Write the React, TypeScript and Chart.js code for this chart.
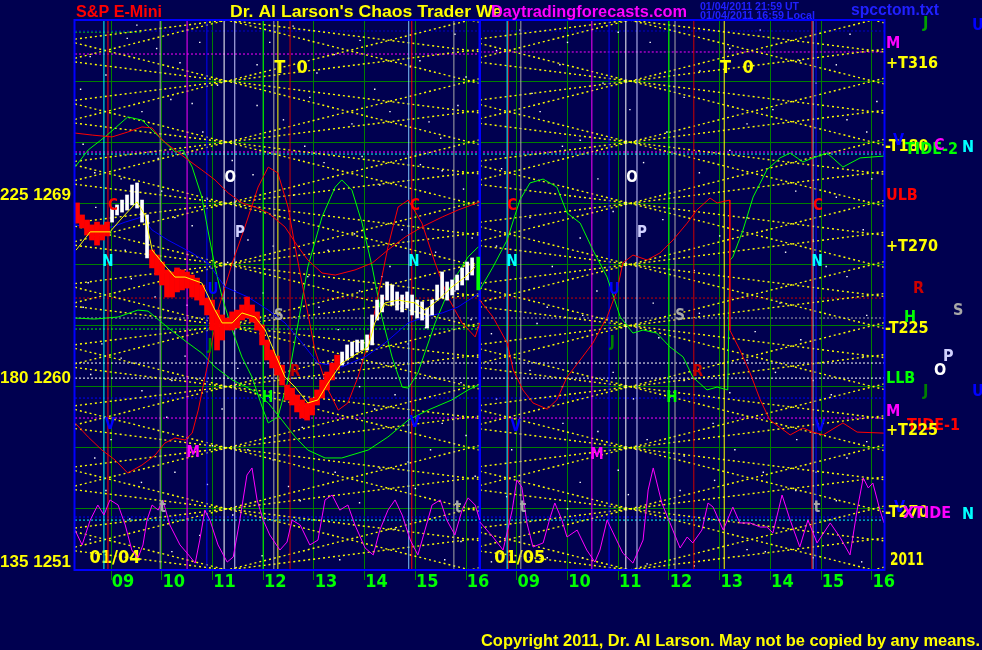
import React, { useEffect, useRef } from "react";
import { Chart, registerables } from "chart.js";
Chart.register(...registerables);

const NAVY = "#000050";
const FONT = "'Liberation Sans', Arial, sans-serif";
const NARROW = "'Liberation Sans Narrow', 'DejaVu Sans Condensed', 'Liberation Sans', sans-serif";

// ---- axes ----
const X_MIN = 8.29;
const X_MAX = 24.24;
const DAY_SPLIT = 16.27;
const Y_MIN = 1251;
const Y_MAX = 1278;
const HOUR_TICKS = [9, 10, 11, 12, 13, 14, 15, 16, 17, 18, 19, 20, 21, 22, 23, 24];
const HOUR_LABELS = ["09", "10", "11", "12", "13", "14", "15", "16", "09", "10", "11", "12", "13", "14", "15", "16"];
const PRICE_GRID = [1251, 1254, 1257, 1260, 1263, 1266, 1269, 1272, 1275, 1278];
const PRICE_LABELS: Record<number, string> = { 1251: "135 1251", 1260: "180 1260", 1269: "225 1269" };

// ---- price bars (day 1) ----
const BAR_START = 8.33;
const BAR_STEP = 0.0986;
const BAR_HIGH = [
  1269.02, 1268.43, 1268.18, 1267.94, 1268.08, 1267.94, 1268.08, 1268.77, 1268.92, 1269.16,
  1269.41, 1269.9, 1270.0, 1269.16, 1268.43, 1266.71, 1266.46, 1266.12, 1265.73, 1265.63,
  1265.83, 1265.73, 1265.63, 1265.48, 1265.33, 1264.99, 1264.35, 1264.25, 1263.76, 1263.52,
  1263.37, 1263.67, 1263.76, 1264.01, 1264.4, 1264.01, 1263.67, 1263.03, 1262.29, 1261.8,
  1261.5, 1261.06, 1260.08, 1259.93, 1259.59, 1259.35, 1259.2, 1259.44, 1259.84, 1260.33,
  1260.72, 1261.16, 1261.55, 1261.7, 1262.05, 1262.19, 1262.29, 1262.29, 1262.54, 1263.52,
  1264.25, 1264.5, 1265.14, 1264.99, 1264.65, 1264.5, 1264.65, 1264.5, 1264.25, 1264.16,
  1263.86, 1264.25, 1264.99, 1265.63, 1265.14, 1265.24, 1265.48, 1265.83, 1266.12, 1266.32,
];
const BAR_LOW = [
  1268.03, 1267.79, 1267.44, 1267.2, 1266.95, 1267.2, 1267.4, 1268.08, 1268.43, 1268.57,
  1268.67, 1268.92, 1268.77, 1268.08, 1266.32, 1265.83, 1265.48, 1264.99, 1264.4, 1264.4,
  1264.65, 1264.75, 1264.84, 1264.4, 1264.25, 1264.01, 1263.52, 1262.78, 1261.8, 1262.29,
  1262.78, 1262.78, 1262.88, 1263.27, 1263.37, 1263.17, 1262.78, 1262.05, 1261.31, 1260.92,
  1260.57, 1260.08, 1259.35, 1259.1, 1258.76, 1258.46, 1258.36, 1258.61, 1259.1, 1259.44,
  1259.84, 1260.33, 1260.82, 1261.06, 1261.31, 1261.5, 1261.7, 1261.8, 1261.8, 1262.05,
  1263.27, 1263.67, 1264.25, 1264.01, 1263.76, 1263.67, 1263.86, 1263.52, 1263.37, 1263.27,
  1262.88, 1263.52, 1264.25, 1264.35, 1264.25, 1264.5, 1264.75, 1264.99, 1265.24, 1265.48,
];
const BAR_UP = [
  0, 0, 0, 0, 0, 0, 0, 1, 1, 1, 1, 1, 1, 1, 1, 0, 0, 0, 0, 0,
  0, 0, 0, 0, 0, 0, 0, 0, 0, 0, 0, 0, 0, 0, 0, 0, 0, 0, 0, 0,
  0, 0, 0, 0, 0, 0, 0, 0, 0, 0, 0, 0, 0, 1, 1, 1, 1, 1, 1, 1,
  1, 1, 1, 1, 1, 1, 1, 1, 1, 1, 1, 1, 1, 1, 1, 1, 1, 1, 1, 1,
];
const LAST_BAR_TIME = 16.24;
const LAST_BAR_RANGE = [1264.75, 1266.36];

// ---- curves [hour, price] ----
const FAST_AVG: [number, number][] = [
  [8.31, 1266.7], [8.59, 1267.6], [8.98, 1267.6], [9.18, 1268.18], [9.51, 1269.07], [9.67, 1268.43],
  [9.81, 1266.71], [10.02, 1266.07], [10.26, 1265.38], [10.46, 1265.38], [10.79, 1265.09], [11.05, 1263.76],
  [11.19, 1263.13], [11.39, 1263.13], [11.58, 1263.62], [11.84, 1263.42], [12.04, 1262.78], [12.23, 1261.65],
  [12.43, 1260.47], [12.63, 1259.98], [12.88, 1259.2], [13.08, 1259.35], [13.28, 1260.18], [13.55, 1261.16],
  [13.87, 1261.65], [14.07, 1261.95], [14.2, 1263.13], [14.4, 1264.11], [14.66, 1264.25], [14.99, 1264.11],
  [15.19, 1263.76], [15.45, 1264.25], [15.72, 1264.89], [15.98, 1265.38], [16.18, 1265.87],
];
const SLOW_AVG: [number, number][] = [
  [8.29, 1267.94], [8.68, 1267.79], [9.02, 1267.84], [9.28, 1268.08], [9.61, 1268.33], [9.81, 1267.69],
  [10.12, 1267.2], [10.6, 1266.56], [10.91, 1266.07], [11.25, 1264.89], [11.7, 1264.4], [12.1, 1263.76],
  [12.43, 1263.13], [12.77, 1262.14], [13.08, 1261.16], [13.55, 1260.97], [14.01, 1261.46], [14.4, 1262.14],
  [14.86, 1263.13], [15.19, 1263.42], [15.53, 1263.62], [15.84, 1263.91], [16.27, 1264.6],
];
const TIDE2_DAY1: [number, number][] = [
  [8.29, 1270.78], [8.55, 1271.62], [8.88, 1272.26], [9.33, 1273.24], [9.61, 1273.09], [9.87, 1272.45],
  [10.26, 1271.52], [10.42, 1271.62], [10.6, 1270.78], [10.79, 1269.31], [10.91, 1267.69], [11.05, 1265.87],
  [11.19, 1264.4], [11.39, 1262.78], [11.58, 1261.46], [11.78, 1260.47], [11.98, 1259.0], [12.1, 1258.22],
  [12.29, 1258.51], [12.49, 1260.33], [12.69, 1263.13], [12.88, 1265.87], [13.16, 1268.33], [13.42, 1269.8],
  [13.55, 1270.15], [13.75, 1269.65], [13.95, 1268.03], [14.15, 1265.87], [14.34, 1263.42], [14.54, 1261.46],
  [14.74, 1259.98], [14.86, 1259.93], [15.05, 1260.67], [15.39, 1263.13], [15.72, 1265.09], [16.04, 1266.37],
  [16.24, 1266.86],
];
const TIDE2_DAY2: [number, number][] = [
  [16.27, 1264.75], [16.53, 1265.87], [16.81, 1267.2], [17.06, 1269.16], [17.26, 1270.0], [17.52, 1270.19],
  [17.79, 1269.8], [17.99, 1268.53], [18.25, 1268.03], [18.5, 1266.71], [18.78, 1265.38], [19.04, 1263.42],
  [19.29, 1262.63], [19.49, 1262.78], [19.76, 1262.63], [20.02, 1261.95], [20.28, 1261.46], [20.47, 1260.47],
  [20.75, 1259.84], [20.95, 1259.98], [21.16, 1259.84], [21.18, 1263.13], [21.2, 1266.2], [21.26, 1266.37],
  [21.46, 1267.69], [21.66, 1269.31], [21.93, 1270.64], [22.19, 1271.23], [22.39, 1271.47], [22.64, 1271.03],
  [22.84, 1271.23], [23.12, 1271.47], [23.43, 1270.78], [23.77, 1271.23], [24.24, 1271.32],
];
const LOW_TIDE_DAY1: [number, number][] = [
  [8.29, 1263.37], [8.68, 1263.32], [9.14, 1263.42], [9.53, 1263.76], [9.73, 1263.71], [10.01, 1263.13],
  [10.26, 1262.63], [10.52, 1262.14], [10.79, 1261.65], [11.05, 1260.97], [11.39, 1260.33], [11.78, 1259.84],
  [12.1, 1259.2], [12.37, 1258.36], [12.63, 1257.53], [12.88, 1256.89], [13.22, 1256.5], [13.55, 1256.5],
  [14.07, 1256.89], [14.46, 1257.53], [14.86, 1258.36], [15.25, 1258.85], [15.72, 1259.35], [16.04, 1259.84],
  [16.24, 1260.08],
];
const UPPER_BAND_DAY1: [number, number][] = [
  [8.29, 1272.45], [8.63, 1272.35], [9.02, 1272.26], [9.33, 1272.5], [9.61, 1272.75], [9.81, 1272.7],
  [10.01, 1272.11], [10.26, 1271.62], [10.52, 1271.13], [10.79, 1270.64], [11.05, 1270.15], [11.31, 1269.51],
  [11.58, 1269.02], [11.84, 1268.82], [12.1, 1268.53], [12.43, 1267.84], [12.69, 1266.86], [12.88, 1266.22],
  [13.16, 1265.58], [13.42, 1265.48], [13.81, 1265.73], [14.15, 1266.07], [14.46, 1266.71], [14.8, 1267.35],
  [15.13, 1267.84], [15.53, 1268.33], [15.84, 1268.67], [16.27, 1269.07],
];
const TIDE1_DAY1: [number, number][] = [
  [8.29, 1258.22], [8.55, 1257.53], [8.82, 1256.89], [9.08, 1256.4], [9.33, 1255.76], [9.61, 1256.15],
  [9.87, 1256.64], [10.06, 1257.23], [10.26, 1257.48], [10.46, 1257.38], [10.6, 1257.72], [10.72, 1258.85],
  [10.91, 1261.16], [11.11, 1263.76], [11.39, 1266.07], [11.64, 1267.84], [11.9, 1269.8], [12.1, 1270.78],
  [12.29, 1270.49], [12.49, 1268.82], [12.63, 1266.86], [12.83, 1264.25], [13.02, 1261.8], [13.28, 1259.84],
  [13.48, 1258.85], [13.67, 1259.2], [13.87, 1260.47], [14.07, 1262.14], [14.26, 1264.4], [14.46, 1266.86],
  [14.66, 1268.82], [14.86, 1269.16], [15.13, 1268.03], [15.39, 1266.07], [15.64, 1264.4], [15.92, 1263.13],
  [16.18, 1262.44], [16.27, 1263.13],
];
const TIDE1_DAY2: [number, number][] = [
  [16.27, 1264.25], [16.53, 1263.42], [16.81, 1262.14], [16.93, 1260.82], [17.12, 1259.84], [17.32, 1259.2],
  [17.6, 1258.9], [17.79, 1259.35], [17.99, 1260.47], [18.25, 1261.31], [18.5, 1262.14], [18.78, 1263.42],
  [18.98, 1264.75], [19.09, 1266.07], [19.29, 1266.46], [19.57, 1266.22], [19.82, 1266.56], [20.08, 1267.2],
  [20.36, 1268.03], [20.55, 1268.67], [20.81, 1269.26], [20.95, 1269.02], [21.2, 1269.16], [21.2, 1262.78],
  [21.4, 1261.8], [21.6, 1260.67], [21.8, 1259.35], [21.99, 1258.36], [22.39, 1257.63], [22.64, 1257.97],
  [22.84, 1257.77], [23.04, 1257.63], [23.43, 1258.22], [23.71, 1257.77], [24.24, 1257.72],
];
const XTIDE_DAY1: [number, number][] = [
  [8.29, 1252.96], [8.43, 1252.23], [8.59, 1253.45], [8.74, 1254.19], [8.86, 1253.7], [8.98, 1254.44],
  [9.14, 1254.19], [9.28, 1253.21], [9.41, 1251.98], [9.53, 1251.59], [9.63, 1252.23], [9.71, 1253.45],
  [9.81, 1254.19], [9.93, 1253.94], [10.02, 1254.44], [10.16, 1253.21], [10.36, 1252.23], [10.5, 1251.83],
  [10.66, 1251.34], [10.75, 1252.47], [10.85, 1253.94], [10.95, 1253.45], [11.11, 1252.23], [11.29, 1251.39],
  [11.41, 1251.64], [11.54, 1253.45], [11.68, 1255.66], [11.78, 1256.01], [11.88, 1254.44], [12.0, 1253.45],
  [12.13, 1252.72], [12.33, 1251.98], [12.47, 1252.37], [12.57, 1253.45], [12.73, 1253.21], [12.92, 1252.23],
  [13.08, 1252.47], [13.22, 1254.44], [13.36, 1254.68], [13.51, 1253.94], [13.67, 1254.19], [13.81, 1253.21],
  [14.01, 1252.08], [14.17, 1251.74], [14.3, 1252.96], [14.46, 1253.94], [14.6, 1254.44], [14.74, 1253.7],
  [14.9, 1252.47], [15.05, 1251.74], [15.19, 1252.96], [15.33, 1254.19], [15.49, 1254.44], [15.62, 1253.45],
  [15.78, 1252.72], [15.92, 1253.94], [16.04, 1254.54], [16.18, 1254.19], [16.27, 1253.45],
];
const XTIDE_DAY2: [number, number][] = [
  [16.27, 1253.36], [16.53, 1252.62], [16.73, 1251.98], [16.91, 1253.94], [17.0, 1255.42], [17.1, 1255.07],
  [17.2, 1253.31], [17.32, 1252.13], [17.52, 1252.33], [17.66, 1253.6], [17.75, 1254.29], [17.89, 1253.45],
  [17.99, 1252.62], [18.19, 1252.96], [18.38, 1251.98], [18.54, 1251.39], [18.64, 1251.98], [18.78, 1253.45],
  [18.9, 1252.82], [19.09, 1251.83], [19.29, 1251.34], [19.49, 1252.47], [19.59, 1254.93], [19.69, 1256.01],
  [19.86, 1254.29], [20.02, 1253.31], [20.22, 1252.08], [20.36, 1252.62], [20.47, 1252.33], [20.65, 1252.96],
  [20.77, 1254.29], [20.87, 1254.09], [21.07, 1252.96], [21.26, 1254.09], [21.4, 1253.31], [21.6, 1253.31],
  [21.8, 1253.11], [21.93, 1253.11], [22.05, 1252.82], [22.23, 1254.68], [22.39, 1253.45], [22.58, 1252.13],
  [22.74, 1253.45], [22.92, 1252.33], [23.18, 1253.31], [23.37, 1252.62], [23.57, 1251.74], [23.71, 1253.94],
  [23.83, 1255.52], [23.93, 1255.03], [24.02, 1255.27], [24.16, 1253.94], [24.24, 1253.31],
];

// ---- vertical time lines ----
const VLINE_HOURS = [8.86, 8.94, 9.97, 10.5, 10.89, 11.23, 11.44, 12.0, 12.21, 12.29, 12.53, 14.87, 14.93, 15.76,
  16.81, 16.83, 17.08, 18.48, 18.82, 19.15, 19.37, 20.0, 20.12, 20.49, 21.09, 22.82, 22.84, 22.9];
const VLINE_KIND = ["cyan", "red", "gray", "magenta", "blue", "white", "lavender", "green", "gray", "yellow", "darkred", "sky", "red", "gray",
  "cyan", "red", "gray", "magenta", "blue", "white", "lavender", "green", "gray", "darkred", "yellow", "red", "sky", "blue"];

// ---- horizontal dotted levels ----
const HLINE_PRICE = [1277.46, 1277.41, 1276.33, 1276.43, 1271.52, 1271.42, 1264.35, 1263.37, 1262.83, 1261.16, 1260.42, 1259.44, 1258.46, 1253.6, 1253.45];
const HLINE_FROM = [8.29, 8.29, 8.29, 16.27, 8.29, 8.29, 8.29, 8.29, 8.29, 8.29, 8.29, 8.29, 8.29, 8.29, 8.29];
const HLINE_TO = [24.24, 9.61, 16.27, 24.24, 24.24, 24.24, 24.24, 24.24, 16.27, 24.24, 24.24, 24.24, 24.24, 24.24, 24.24];
const HLINE_KIND = ["navyblue", "green", "magenta", "magenta", "magenta", "cyan", "darkred", "gray", "green", "white", "white", "blue", "magenta", "blue", "cyan"];

// ---- angle lines (nodes per day, slopes in points per hour) ----
const DAY_RANGES = [[8.29, 16.27], [16.27, 24.24]];
const ANGLE_NODES = [11.29, 19.23];
const ANGLE_SLOPES = [0.626, 0.313];

// ---- background dots ----
const STARS: [number, number][] = [
  [9.61, 1273.5], [10.18, 1274.1], [10.81, 1272.5], [11.88, 1273.8], [12.92, 1274.2], [13.75, 1272.9], [14.5, 1273.5],
  [15.27, 1273.0], [15.84, 1273.8], [8.68, 1270.5], [9.93, 1271.2], [11.39, 1271.1], [12.82, 1271.8], [13.95, 1271.3],
  [15.53, 1270.6], [9.28, 1266.7], [10.26, 1268.3], [11.7, 1267.2], [13.28, 1266.7], [14.74, 1267.7], [16.12, 1267.3],
  [8.55, 1265.1], [9.87, 1264.4], [11.44, 1264.7], [12.88, 1265.4], [14.34, 1265.4], [15.78, 1264.7], [8.82, 1262.1],
  [10.46, 1261.5], [11.98, 1262.1], [13.48, 1262.8], [14.86, 1262.1], [16.04, 1261.5], [9.61, 1259.8], [11.19, 1258.9],
  [12.77, 1258.0], [14.2, 1258.9], [15.53, 1258.2], [8.68, 1256.5], [10.26, 1255.8], [11.7, 1256.9], [13.42, 1255.8],
  [14.86, 1256.3], [16.18, 1255.6], [9.51, 1277.75], [9.32, 1277.1], [8.59, 1276.2], [10.75, 1276.9], [10.36, 1275.9],
  [11.88, 1275.8], [12.13, 1276.9], [13.06, 1275.4], [12.59, 1277.7], [13.91, 1277.0], [15.09, 1276.0], [15.78, 1277.3],
  [8.59, 1252.5], [9.37, 1253.5], [10.75, 1252.7], [11.98, 1251.7], [12.73, 1254.4], [13.51, 1251.5], [14.6, 1253.0],
  [15.58, 1251.5], [17.46, 1273.5], [18.25, 1272.1], [19.23, 1273.6], [19.96, 1272.5], [21.54, 1272.9], [22.05, 1273.6],
  [23.51, 1273.1], [23.9, 1272.5], [17.26, 1268.3], [18.25, 1267.3], [19.88, 1268.2], [21.54, 1268.3], [22.84, 1267.2],
  [23.83, 1267.7], [17.6, 1263.9], [18.58, 1264.7], [19.69, 1264.1], [22.19, 1264.1], [23.51, 1265.4], [17.26, 1260.8],
  [18.9, 1260.7], [21.54, 1261.3], [22.84, 1260.3], [23.83, 1261.5], [17.91, 1258.2], [19.57, 1257.4], [20.87, 1258.2],
  [22.52, 1257.4], [23.51, 1256.5], [18.25, 1255.3], [20.22, 1254.9], [21.86, 1255.8], [17.6, 1251.6], [19.57, 1251.3],
  [21.54, 1252.0], [22.84, 1251.6], [17.06, 1277.5], [17.85, 1275.8], [19.63, 1276.9], [20.61, 1275.5], [21.8, 1277.5],
  [22.58, 1276.0], [23.57, 1277.3],
  [8.4, 1274.6], [8.9, 1275.3], [9.9, 1276.6], [10.6, 1273.9], [11.1, 1274.8], [12.4, 1273.1], [13.4, 1276.3],
  [14.2, 1274.6], [14.9, 1275.7], [15.5, 1272.2], [16.0, 1275.2], [8.45, 1271.9], [9.2, 1270.2], [10.0, 1269.6],
  [10.9, 1269.2], [11.8, 1270.4], [12.6, 1269.4], [13.2, 1271.0], [14.3, 1269.9], [15.1, 1270.9], [15.95, 1269.7],
  [8.7, 1268.8], [9.7, 1267.4], [10.6, 1267.9], [11.3, 1266.1], [12.2, 1266.9], [13.8, 1267.5], [14.5, 1265.9],
  [15.4, 1266.6], [8.45, 1263.9], [9.4, 1265.3], [10.5, 1264.0], [12.0, 1264.6], [13.1, 1263.9], [13.9, 1264.7],
  [15.2, 1262.9], [16.1, 1263.3], [8.6, 1260.6], [9.2, 1261.4], [10.2, 1260.3], [11.5, 1260.9], [12.3, 1261.2],
  [13.9, 1260.0], [14.6, 1259.6], [15.9, 1260.2], [9.0, 1257.4], [10.1, 1258.5], [11.0, 1257.1], [12.2, 1256.4],
  [13.7, 1257.8], [14.3, 1256.0], [15.3, 1256.9], [16.0, 1257.6], [8.9, 1254.9], [9.6, 1255.3], [10.9, 1255.2],
  [12.5, 1255.1], [13.9, 1254.3], [15.0, 1255.0], [15.9, 1252.4], [10.2, 1251.9], [11.4, 1253.7],
  [16.6, 1276.5], [17.3, 1274.4], [18.0, 1276.9], [18.7, 1274.9], [19.0, 1277.4], [20.3, 1274.2], [21.2, 1276.6],
  [22.9, 1274.9], [23.3, 1275.8], [24.1, 1274.0], [16.7, 1270.7], [17.9, 1271.8], [18.6, 1270.2], [19.5, 1271.0],
  [20.6, 1270.5], [21.2, 1271.6], [22.5, 1269.6], [23.3, 1269.3], [24.0, 1270.2], [16.6, 1266.9], [17.7, 1265.9],
  [18.9, 1268.6], [20.5, 1265.7], [21.0, 1267.4], [22.3, 1266.6], [23.1, 1265.9], [16.5, 1262.6], [17.4, 1263.1],
  [18.3, 1263.5], [19.8, 1262.4], [20.6, 1263.6], [21.7, 1262.7], [22.6, 1262.3], [23.9, 1263.5], [16.6, 1259.4],
  [17.9, 1260.0], [19.3, 1259.4], [20.3, 1260.3], [21.2, 1259.7], [22.1, 1260.7], [23.2, 1259.6], [16.9, 1256.9],
  [18.6, 1257.8], [19.0, 1255.9], [20.3, 1256.6], [21.3, 1256.9], [22.9, 1255.8], [23.9, 1257.3], [16.8, 1254.6],
  [18.0, 1254.0], [19.2, 1254.7], [20.9, 1255.4], [22.5, 1254.9], [23.3, 1254.4], [16.5, 1251.4], [18.3, 1251.6],
  [20.5, 1251.2], [21.9, 1251.9], [23.8, 1251.4],
];

// ---- in-plot letters [text, hour, price] ----
const MARKERS: [string, number, number][] = [
  ["C", 9.04, 1268.87], ["C", 14.99, 1268.87], ["C", 16.91, 1268.87], ["C", 22.94, 1268.87],
  ["N", 8.94, 1266.12], ["N", 14.97, 1266.12], ["N", 16.91, 1266.12], ["N", 22.92, 1266.12],
  ["V", 8.98, 1258.12], ["V", 14.99, 1258.22], ["V", 16.98, 1258.02], ["V", 22.98, 1258.02],
  ["O", 11.35, 1270.24], ["O", 19.27, 1270.24], ["P", 11.54, 1267.54], ["P", 19.47, 1267.54],
  ["U", 11.01, 1264.75], ["U", 18.92, 1264.75], ["S", 12.31, 1263.47], ["S", 20.22, 1263.47],
  ["J", 10.95, 1262.0], ["J", 18.88, 1262.14], ["R", 12.63, 1260.72], ["R", 20.57, 1260.72],
  ["H", 12.09, 1259.44], ["H", 20.06, 1259.44], ["M", 10.62, 1256.74], ["M", 18.58, 1256.64],
  ["t", 10.02, 1254.04], ["t", 15.84, 1254.04], ["t", 17.12, 1254.04], ["t", 22.92, 1254.04],
];
const TIME_ZERO: [string, number, number][] = [["T  0", 12.55, 1275.64], ["T  0", 21.34, 1275.64]];
const DATE_MARKS: [string, number, number][] = [["01/04", 9.08, 1251.5], ["01/05", 17.06, 1251.5]];

// ---- styles ----
const KIND_COLOR: Record<string, string> = {
  cyan: "#00ffff", red: "#ff0000", darkred: "#cc0000", gray: "#a8a8a8", magenta: "#ff00ff", blue: "#0000ff",
  white: "#ffffff", lavender: "#c8c8ff", green: "#00ff00", yellow: "#ffff00", sky: "#80c8ff", navyblue: "#0000c8",
};
const MARKER_COLOR: Record<string, string> = {
  C: "#ff0000", N: "#00ffff", V: "#0000ff", O: "#ffffff", P: "#d0d0ff", U: "#0000ff", S: "#a8a8a8",
  J: "#008000", R: "#c00000", H: "#00ff00", M: "#ff00ff", t: "#a8a8a8",
};

const pts = (arr: [number, number][]) => arr.map(([x, y]) => ({ x, y }));
const lineDs = (data: any[], color: string, order: number, extra: any = {}) => ({
  type: "line", data, borderColor: color, borderWidth: 1, pointRadius: 0, tension: 0, fill: false,
  spanGaps: false, order, ...extra,
});

function buildDatasets() {
  const ds: any[] = [];
  ds.push({
    type: "line", data: pts(STARS), showLine: false, pointRadius: 1, pointStyle: "rect",
    pointBackgroundColor: "#ffffff", pointBorderWidth: 0, order: 100,
  });
  HLINE_PRICE.forEach((p, i) => {
    ds.push(lineDs([{ x: HLINE_FROM[i], y: p }, { x: HLINE_TO[i], y: p }], KIND_COLOR[HLINE_KIND[i]], 90, { borderDash: [2, 2] }));
  });
  const angle: any[] = [];
  DAY_RANGES.forEach(([a, b], d) => {
    const n = ANGLE_NODES[d];
    for (let L = 1242; L <= 1287; L += 3) {
      ANGLE_SLOPES.forEach((k) => {
        [1, -1].forEach((s) => {
          angle.push({ x: a, y: L + s * k * (a - n) }, { x: b, y: L + s * k * (b - n) }, { x: b, y: null });
        });
      });
    }
  });
  ds.push(lineDs(angle, "#ffff00", 85, { borderDash: [2, 3], borderWidth: 1.4 }));
  VLINE_HOURS.forEach((h, i) => {
    ds.push(lineDs([{ x: h, y: Y_MIN }, { x: h, y: Y_MAX }], KIND_COLOR[VLINE_KIND[i]], 80));
  });
  ds.push(lineDs([{ x: DAY_SPLIT, y: Y_MIN }, { x: DAY_SPLIT, y: Y_MAX }], "#0000ff", 79, { borderWidth: 2.5 }));

  ds.push(lineDs(pts(XTIDE_DAY1), "#ff00ff", 60));
  ds.push(lineDs(pts(XTIDE_DAY2), "#ff00ff", 60));
  ds.push(lineDs(pts(LOW_TIDE_DAY1), "#00ff00", 55));
  ds.push(lineDs(pts(TIDE2_DAY1), "#00ff00", 55));
  ds.push(lineDs(pts(TIDE2_DAY2), "#00ff00", 55));
  ds.push(lineDs(pts(UPPER_BAND_DAY1), "#ff0000", 54));
  ds.push(lineDs(pts(TIDE1_DAY1), "#ff0000", 54));
  ds.push(lineDs(pts(TIDE1_DAY2), "#ff0000", 54));
  ds.push(lineDs(pts(SLOW_AVG), "#0000ff", 52));

  const down: any[] = [];
  const up: any[] = [];
  BAR_HIGH.forEach((hi, i) => {
    const p = { x: BAR_START + i * BAR_STEP, y: [BAR_LOW[i], hi] };
    (BAR_UP[i] ? up : down).push(p);
  });
  ds.push({ type: "bar", data: down, backgroundColor: "#ff0000", barThickness: 5, grouped: false, order: 41 });
  ds.push({ type: "bar", data: up, backgroundColor: "#ffffff", barThickness: 3, grouped: false, order: 40 });
  ds.push({ type: "bar", data: [{ x: LAST_BAR_TIME, y: LAST_BAR_RANGE }], backgroundColor: "#00ff00", barThickness: 3, grouped: false, order: 35 });
  ds.push(lineDs(pts(FAST_AVG), "#ffff00", 30));
  return ds;
}

function fitText(ctx: CanvasRenderingContext2D, text: string, x: number, y: number, w: number, size: number, color: string, family = FONT) {
  ctx.save();
  ctx.font = `bold ${size}px ${family}`;
  ctx.fillStyle = color;
  ctx.textAlign = "left";
  ctx.textBaseline = "alphabetic";
  const m = ctx.measureText(text).width;
  ctx.translate(x, y);
  if (w > 0 && m > 0) ctx.scale(w / m, 1);
  ctx.fillText(text, 0, 0);
  ctx.restore();
}

const SIDE_LABELS: [string, number, number, string][] = [
  ["J", 923, 24, "#00a000"], ["U", 972, 26, "#0000ff"], ["M", 886, 44, "#ff00ff"], ["+T316", 886, 64, "#ffff00"],
  ["-T180", 885, 147, "#ffff00"], ["V", 893, 141, "#0000ff"], ["TIDE-2", 905, 150, "#00ff00"], ["C", 934, 146, "#ff00ff"],
  ["N", 962, 148, "#00ffff"], ["ULB", 886, 196, "#ff0000"], ["+T270", 886, 247, "#ffff00"], ["R", 913, 289, "#cc0000"],
  ["S", 953, 311, "#a8a8a8"], ["H", 904, 318, "#00ff00"], ["-T225", 885, 329, "#ffff00"], ["P", 943, 357, "#d0d0ff"],
  ["O", 934, 371, "#ffffff"], ["LLB", 886, 379, "#00ff00"], ["J", 923, 392, "#008000"], ["U", 972, 392, "#0000ff"],
  ["M", 886, 412, "#ff00ff"], ["TIDE-1", 907, 426, "#ff0000"], ["+T225", 886, 431, "#ffff00"], ["V", 894, 508, "#0000ff"],
  ["-T270", 885, 513, "#ffff00"], ["XTIDE", 903, 514, "#ff00ff"], ["N", 962, 515, "#00ffff"],
];

const decor = {
  id: "decor",
  beforeDraw(chart: any) {
    const ctx = chart.ctx;
    ctx.save();
    ctx.fillStyle = NAVY;
    ctx.fillRect(0, 0, chart.width, chart.height);
    ctx.restore();
  },
  beforeDatasetsDraw(chart: any) {
    const ctx = chart.ctx;
    const xs = chart.scales.x;
    const ys = chart.scales.y;
    ctx.save();
    ctx.font = `bold 18px ${NARROW}`;
    ctx.fillStyle = "#ffff00";
    ctx.textAlign = "center";
    ctx.textBaseline = "middle";
    DATE_MARKS.forEach(([t, h, p]) => ctx.fillText(t, xs.getPixelForValue(h), ys.getPixelForValue(p) - 1));
    TIME_ZERO.forEach(([t, h, p]) => ctx.fillText(t, xs.getPixelForValue(h), ys.getPixelForValue(p)));
    ctx.restore();
  },
  afterDatasetsDraw(chart: any) {
    const ctx = chart.ctx;
    const a = chart.chartArea;
    const xs = chart.scales.x;
    const ys = chart.scales.y;
    ctx.save();
    ctx.strokeStyle = "#0000ff";
    ctx.lineWidth = 2;
    ctx.strokeRect(a.left - 0.5, a.top, a.right - a.left + 1, a.bottom - a.top);
    ctx.font = `bold 15px ${NARROW}`;
    ctx.textAlign = "center";
    ctx.textBaseline = "middle";
    MARKERS.forEach(([t, h, p]) => {
      ctx.fillStyle = MARKER_COLOR[t];
      ctx.fillText(t, xs.getPixelForValue(h), ys.getPixelForValue(p));
    });
    ctx.font = `bold 16px ${NARROW}`;
    ctx.textAlign = "left";
    SIDE_LABELS.forEach(([t, x, y, c]) => {
      ctx.fillStyle = c;
      ctx.fillText(t, x, y);
    });
    ctx.restore();
  },
  afterDraw(chart: any) {
    const ctx = chart.ctx;
    fitText(ctx, "S&P E-Mini", 76, 17, 86, 16, "#ff0000");
    fitText(ctx, "Dr. Al Larson's Chaos Trader We", 230, 17, 272, 16, "#ffff00");
    fitText(ctx, "Daytradingforecasts.com", 491, 17, 196, 16, "#ff00ff");
    fitText(ctx, "01/04/2011 21:59 UT", 700, 9.5, 99, 11, "#2020ff");
    fitText(ctx, "01/04/2011 16:59 Local", 700, 19, 115, 11, "#2020ff");
    fitText(ctx, "spcctom.txt", 851, 15, 88, 16, "#2020ff");
    fitText(ctx, "2011", 890, 565, 34, 18, "#ffff00", NARROW);
    fitText(ctx, "Copyright 2011, Dr. Al Larson. May not be copied by any means.", 481, 646, 499, 17, "#ffff00");
  },
};

export default function App() {
  const ref = useRef<HTMLCanvasElement | null>(null);
  useEffect(() => {
    document.body.style.margin = "0";
    document.body.style.background = NAVY;
    const chart = new Chart(ref.current as HTMLCanvasElement, {
      type: "line",
      data: { datasets: buildDatasets() } as any,
      options: {
        animation: false,
        responsive: false,
        devicePixelRatio: 1,
        events: [],
        layout: { padding: { top: 20, right: 98, left: 0, bottom: 0 } },
        plugins: { legend: { display: false }, tooltip: { enabled: false }, title: { display: false } },
        scales: {
          x: {
            type: "linear", min: X_MIN, max: X_MAX, offset: false,
            afterBuildTicks: (s: any) => { s.ticks = HOUR_TICKS.map((v) => ({ value: v })); },
            afterFit: (s: any) => { s.height = 80; },
            grid: { color: "#008000", tickColor: "#008000", tickLength: 10, offset: false },
            border: { display: false },
            ticks: {
              color: "#00ff00", font: { family: NARROW, size: 18, weight: "bold" }, padding: -8, labelOffset: 12,
              maxRotation: 0, autoSkip: false, callback: (_v: any, i: number) => HOUR_LABELS[i],
            },
          },
          y: {
            type: "linear", min: Y_MIN, max: Y_MAX,
            afterBuildTicks: (s: any) => { s.ticks = PRICE_GRID.map((v) => ({ value: v })); },
            afterFit: (s: any) => { s.width = 75; },
            grid: { color: "#008000", drawTicks: false },
            border: { display: false },
            ticks: {
              color: "#ffff00", font: { family: FONT, size: 17, weight: "bold" }, padding: 4, labelOffset: -8,
              autoSkip: false, callback: (v: any) => PRICE_LABELS[v] ?? "",
            },
          },
        },
      } as any,
      plugins: [decor],
    });
    return () => chart.destroy();
  }, []);
  return (
    <div style={{ width: 982, height: 650 }}>
      <canvas ref={ref} width={982} height={650} style={{ display: "block" }} />
    </div>
  );
}
